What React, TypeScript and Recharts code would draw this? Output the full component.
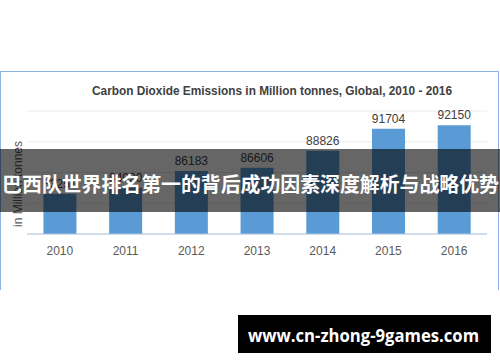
import React from 'react';
import { BarChart, Bar, XAxis, YAxis, CartesianGrid, LabelList } from 'recharts';

const years = ['2010', '2011', '2012', '2013', '2014', '2015', '2016'];
const emissions = [83251, 84020, 86183, 86606, 88826, 91704, 92150];
const yTicks = [78000, 80000, 82000, 84000, 86000, 88000, 90000, 92000, 94000];

const title = 'Carbon Dioxide Emissions in Million tonnes, Global, 2010 - 2016';
const yLabel = 'in Million tonnes';
const banner = '巴西队世界排名第一的背后成功因素深度解析与战略优势';
const watermark = 'www.cn-zhong-9games.com';

const data = years.map((year, i) => ({ year, value: emissions[i] }));

const font = '"Liberation Sans", Arial, sans-serif';

export default function App() {
  return (
    <div style={{ position: 'absolute', left: 0, top: 0, width: 500, height: 362, background: '#fff' }}>
      {/* frame of the pasted chart image */}
      <div
        style={{
          position: 'absolute',
          left: 0,
          top: 71,
          width: 497,
          height: 218,
          borderTop: '1px solid #8db3e2',
          borderLeft: '1px solid #8db3e2',
          borderRight: '1px solid #8db3e2',
        }}
      />
      <div style={{ position: 'absolute', left: 0, top: 0 }}>
        <BarChart
          width={500}
          height={362}
          data={data}
          margin={{ top: 111, right: 13, left: 27, bottom: 98 }}
          barCategoryGap="25%"
        >
          <CartesianGrid vertical={false} stroke="#ececec" />
          <YAxis hide domain={[78000, 94000]} ticks={yTicks} />
          <XAxis
            dataKey="year"
            tickLine={false}
            axisLine={{ stroke: '#a9c4e4' }}
            tick={{ fill: '#595959', fontSize: 12, fontFamily: font }}
            tickMargin={6}
          />
          <Bar dataKey="value" fill="#5b9bd5" isAnimationActive={false}>
            <LabelList
              dataKey="value"
              position="top"
              offset={6}
              style={{ fill: '#404040', fontSize: 12, fontFamily: font }}
            />
          </Bar>
        </BarChart>
      </div>
      <svg
        width={500}
        height={362}
        style={{ position: 'absolute', left: 0, top: 0, pointerEvents: 'none' }}
      >
        <text
          x={92}
          y={94.5}
          textLength={360}
          lengthAdjust="spacingAndGlyphs"
          fontFamily={font}
          fontWeight="bold"
          fontSize={13}
          fill="#404040"
        >
          {title}
        </text>
        <text
          transform="translate(21.5,184) rotate(-90)"
          textAnchor="middle"
          fontFamily={font}
          fontSize={12}
          fill="#595959"
        >
          {yLabel}
        </text>
        <rect x={0} y={149} width={500} height={63} fill="#000" fillOpacity={0.6} />
        <text
          x={2}
          y={192}
          textLength={497}
          lengthAdjust="spacingAndGlyphs"
          fontFamily='"Noto Sans CJK SC", sans-serif'
          fontWeight="bold"
          fontSize={20}
          fill="#fff"
        >
          {banner}
        </text>
        <rect x={238} y={315} width={253} height={38} fill="#000" />
        <text
          x={248}
          y={342}
          textLength={231}
          lengthAdjust="spacingAndGlyphs"
          fontFamily='"Open Sans", sans-serif'
          fontWeight="bold"
          fontSize={17}
          fill="#fff"
        >
          {watermark}
        </text>
      </svg>
    </div>
  );
}
